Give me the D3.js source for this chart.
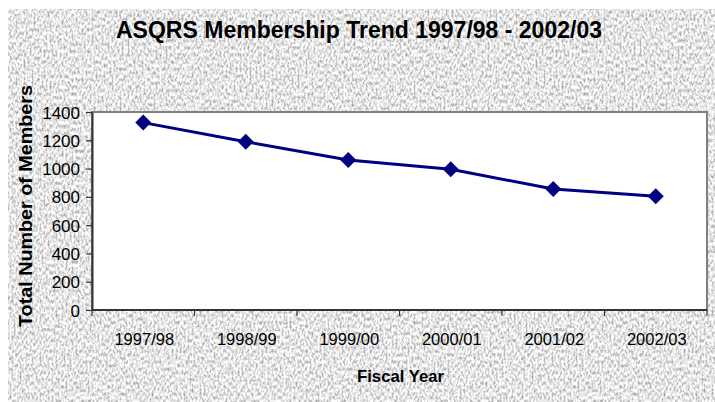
<!DOCTYPE html>
<html>
<head>
<meta charset="utf-8">
<script src="https://cdn.jsdelivr.net/npm/d3@7"></script>
<style>
  html, body { margin: 0; padding: 0; background: #ffffff; }
  svg { display: block; }
  text { font-family: "Liberation Sans", Arial, sans-serif; fill: #000; }
</style>
</head>
<body>
<svg id="chart" width="715" height="402"></svg>
<script>
const categories = ["1997/98", "1998/99", "1999/00", "2000/01", "2001/02", "2002/03"];
const members = [1325, 1190, 1060, 995, 855, 805];
const yTicks = [0, 200, 400, 600, 800, 1000, 1200, 1400];
const titleText = "ASQRS Membership Trend 1997/98 - 2002/03";
const xTitle = "Fiscal Year";
const yTitle = "Total Number of Members";

const W = 715, H = 402;
const plot = { left: 92, right: 707, top: 112, bottom: 310 };

const svg = d3.select("#chart");
const defs = svg.append("defs");

// granite-like background texture (grayscale noise)
const f = defs.append("filter").attr("id", "granite")
  .attr("x", 0).attr("y", 0).attr("width", "100%").attr("height", "100%")
  .attr("color-interpolation-filters", "sRGB");
f.append("feTurbulence").attr("type", "fractalNoise")
  .attr("baseFrequency", "0.5 0.28").attr("numOctaves", 2).attr("seed", 11).attr("result", "noise");
f.append("feColorMatrix").attr("in", "noise").attr("type", "matrix")
  .attr("values", "0.8 0 0 0 0.5  0.8 0 0 0 0.5  0.8 0 0 0 0.5  0 0 0 0 1");

svg.append("rect").attr("x", 8).attr("y", 9).attr("width", W - 8).attr("height", H - 9)
  .attr("fill", "#e8e8e8")
  .attr("filter", "url(#granite)");

// scales
const x = d3.scaleBand().domain(categories).range([plot.left, plot.right]).padding(0);
const y = d3.scaleLinear().domain([0, 1400]).range([plot.bottom, plot.top]);

// plot area
svg.append("rect")
  .attr("x", plot.left).attr("y", plot.top)
  .attr("width", plot.right - plot.left).attr("height", plot.bottom - plot.top)
  .attr("fill", "#ffffff").attr("stroke", "#808080").attr("stroke-width", 2);

// y axis
const yAxis = d3.axisLeft(y).tickValues(yTicks).tickFormat(d3.format("d"))
  .tickSize(6).tickPadding(6).tickSizeOuter(0);
const gy = svg.append("g").attr("transform", `translate(${plot.left},0)`).call(yAxis);
gy.attr("font-size", null).attr("font-family", null);
gy.select(".domain").attr("stroke", "#333").attr("stroke-width", 2);
gy.selectAll(".tick line").attr("stroke", "#333").attr("stroke-width", 1.2);
gy.selectAll(".tick text").attr("font-size", 17).attr("fill", "#000").attr("dy", "0.36em");

// x axis: ticks at band boundaries
svg.append("line").attr("x1", plot.left).attr("x2", plot.right)
  .attr("y1", plot.bottom).attr("y2", plot.bottom)
  .attr("stroke", "#333").attr("stroke-width", 2);
const bounds = categories.map(c => x(c)).concat([x(categories[categories.length - 1]) + x.bandwidth()]);
svg.append("g").selectAll("line").data(bounds).join("line")
  .attr("x1", d => d).attr("x2", d => d)
  .attr("y1", plot.bottom).attr("y2", plot.bottom + 6)
  .attr("stroke", "#333").attr("stroke-width", 1.2);
svg.append("g").selectAll("text").data(categories).join("text")
  .attr("x", d => x(d) + x.bandwidth() / 2 + 1).attr("y", 345)
  .attr("text-anchor", "middle").attr("font-size", 16.5)
  .text(d => d);

// line + markers
const pts = categories.map((c, i) => [x(c) + x.bandwidth() / 2, y(members[i])]);
svg.append("path").datum(pts)
  .attr("d", d3.line())
  .attr("fill", "none").attr("stroke", "#000080").attr("stroke-width", 3);
const r = 8;
svg.append("g").selectAll("path").data(pts).join("path")
  .attr("d", d => `M${d[0]},${d[1] - r}L${d[0] + r},${d[1]}L${d[0]},${d[1] + r}L${d[0] - r},${d[1]}Z`)
  .attr("fill", "#000080");

// titles
svg.append("text").attr("x", 359).attr("y", 38).attr("text-anchor", "middle")
  .attr("font-size", 23).attr("font-weight", "bold")
  .attr("textLength", 486).attr("lengthAdjust", "spacingAndGlyphs")
  .text(titleText);
svg.append("text").attr("x", 400.5).attr("y", 382).attr("text-anchor", "middle")
  .attr("font-size", 17).attr("font-weight", "bold")
  .attr("textLength", 87).attr("lengthAdjust", "spacingAndGlyphs")
  .text(xTitle);
svg.append("text").attr("transform", "translate(32,206) rotate(-90)")
  .attr("text-anchor", "middle")
  .attr("font-size", 18).attr("font-weight", "bold")
  .attr("textLength", 242).attr("lengthAdjust", "spacingAndGlyphs")
  .text(yTitle);
</script>
</body>
</html>
